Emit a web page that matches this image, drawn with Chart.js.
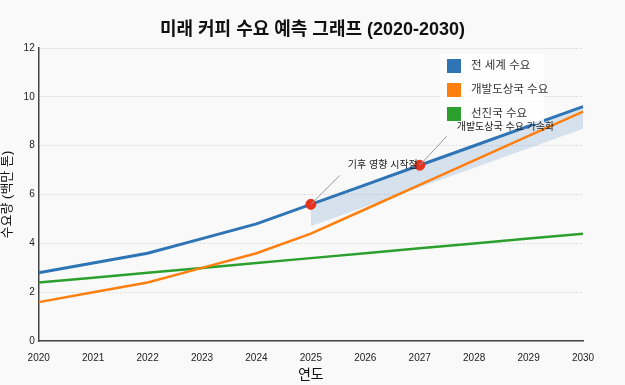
<!DOCTYPE html>
<html>
<head>
<meta charset="utf-8">
<script src="https://cdn.jsdelivr.net/npm/chart.js@4/dist/chart.umd.min.js"></script>
<style>
  html, body { margin: 0; padding: 0; background: #f9f9f9; }
  #wrap { width: 625px; height: 385px; }
</style>
</head>
<body>
<div id="wrap"><canvas id="coffeeChart"></canvas></div>
<script>
// 데이터
const years = ["2020", "2021", "2022", "2023", "2024", "2025", "2026", "2027", "2028", "2029", "2030"];
const worldDemand = [2.8, 3.2, 3.6, 4.2, 4.8, 5.6, 6.4, 7.2, 8.0, 8.8, 9.6];
const developingDemand = [1.6, 2.0, 2.4, 3.0, 3.6, 4.4, 5.4, 6.4, 7.4, 8.4, 9.4];
const developedDemand = [2.4, 2.6, 2.8, 3.0, 3.2, 3.4, 3.6, 3.8, 4.0, 4.2, 4.4];
// 불확실성 구간 하한 (2025년부터)
const bandLower = [null, null, null, null, null, 4.7, 5.5, 6.3, 7.1, 7.9, 8.7];
const seriesNames = ["전 세계 수요", "개발도상국 수요", "선진국 수요"];
const seriesColors = ["#2f75b5", "#ff7f0e", "#2ca02c"];
const chartTitle = "미래 커피 수요 예측 그래프 (2020-2030)";
// 주석
const notes = [
    { year: "2025", text: "기후 영향 시작점", dx: 29, dy: -29, tx: 37, ty: -39 },
    { year: "2027", text: "개발도상국 수요 가속화", dx: 27, dy: -29, tx: 37, ty: -38 }
];
const markerValues = years.map((y, i) => notes.some(n => n.year === y) ? worldDemand[i] : null);

const FONT = "'Liberation Sans', 'Noto Sans CJK KR', sans-serif";

// 제목, 범례, 주석 그리기
const overlayPlugin = {
    id: "overlay",
    afterDatasetsDraw(chart) {
        const ctx = chart.ctx;
        const xs = chart.scales.x, ys = chart.scales.y;
        ctx.save();
        // 제목 (캔버스 전체 기준 가운데)
        ctx.fillStyle = "#111";
        ctx.font = "bold 18px " + FONT;
        ctx.textAlign = "center";
        ctx.textBaseline = "middle";
        ctx.fillText(chartTitle, chart.width / 2, 30);
        // 범례 박스
        ctx.fillStyle = "rgba(255,255,255,0.8)";
        ctx.fillRect(440, 54, 104, 70);
        seriesNames.forEach((name, i) => {
            const cy = 66 + i * 24;
            ctx.fillStyle = seriesColors[i];
            ctx.fillRect(447, cy - 7, 14, 14);
            ctx.fillStyle = "#333";
            ctx.font = "11.5px " + FONT;
            ctx.textBaseline = "middle";
            ctx.textAlign = "left";
            ctx.fillText(name, 471, cy);
        });
        // 주석 선과 글자
        notes.forEach(n => {
            const i = years.indexOf(n.year);
            const px = xs.getPixelForValue(i);
            const py = ys.getPixelForValue(worldDemand[i]);
            ctx.strokeStyle = "#9a9a9a";
            ctx.lineWidth = 1;
            ctx.beginPath();
            ctx.moveTo(px, py);
            ctx.lineTo(px + n.dx, py + n.dy);
            ctx.stroke();
            ctx.fillStyle = "#222";
            ctx.font = "10px " + FONT;
            ctx.textBaseline = "middle";
            ctx.textAlign = "left";
            ctx.fillText(n.text, px + n.tx, py + n.ty);
        });
        ctx.restore();
    }
};

const ctx = document.getElementById("coffeeChart").getContext("2d");
new Chart(ctx, {
    type: "line",
    data: {
        labels: years,
        datasets: [
            {
                label: seriesNames[0],
                data: worldDemand,
                borderColor: seriesColors[0],
                borderWidth: 3,
                pointRadius: 0,
                tension: 0,
                fill: false,
                order: 1
            },
            {
                label: seriesNames[1],
                data: developingDemand,
                borderColor: seriesColors[1],
                borderWidth: 2.5,
                pointRadius: 0,
                tension: 0,
                fill: false,
                order: 2
            },
            {
                label: seriesNames[2],
                data: developedDemand,
                borderColor: seriesColors[2],
                borderWidth: 2.5,
                pointRadius: 0,
                tension: 0,
                fill: false,
                order: 3
            },
            {
                label: "band",
                data: bandLower,
                borderWidth: 0,
                borderColor: "rgba(0,0,0,0)",
                pointRadius: 0,
                backgroundColor: "rgba(70,130,190,0.2)",
                fill: { target: 0 },
                order: 5
            },
            {
                label: "markers",
                data: markerValues,
                showLine: false,
                pointRadius: 5,
                pointHoverRadius: 5,
                pointBackgroundColor: "#e8321e",
                pointBorderColor: "#e8321e",
                order: 0
            }
        ]
    },
    options: {
        responsive: true,
        maintainAspectRatio: false,
        animation: false,
        layout: { padding: { left: 0, right: 42, top: 48, bottom: 1 } },
        plugins: {
            legend: { display: false },
            tooltip: { enabled: false },
            title: { display: false }
        },
        scales: {
            x: {
                grid: { display: false },
                border: { color: "#444", width: 1.5 },
                ticks: { color: "#222", font: { family: FONT, size: 10 }, maxRotation: 0, padding: 3 },
                title: { display: true, text: "연도", color: "#111", font: { family: FONT, size: 14 }, padding: { top: 0, bottom: 0 } }
            },
            y: {
                min: 0,
                max: 12,
                ticks: { stepSize: 2, color: "#222", font: { family: FONT, size: 10 }, padding: 4 },
                grid: { color: "#d9d9d9", drawTicks: false },
                border: { color: "#444", width: 1.5, dash: [2, 2] },
                title: { display: true, text: "수요량 (백만 톤)", color: "#111", font: { family: FONT, size: 13 }, padding: { top: 0, bottom: 4 } }
            }
        }
    },
    plugins: [overlayPlugin]
});
</script>
</body>
</html>
